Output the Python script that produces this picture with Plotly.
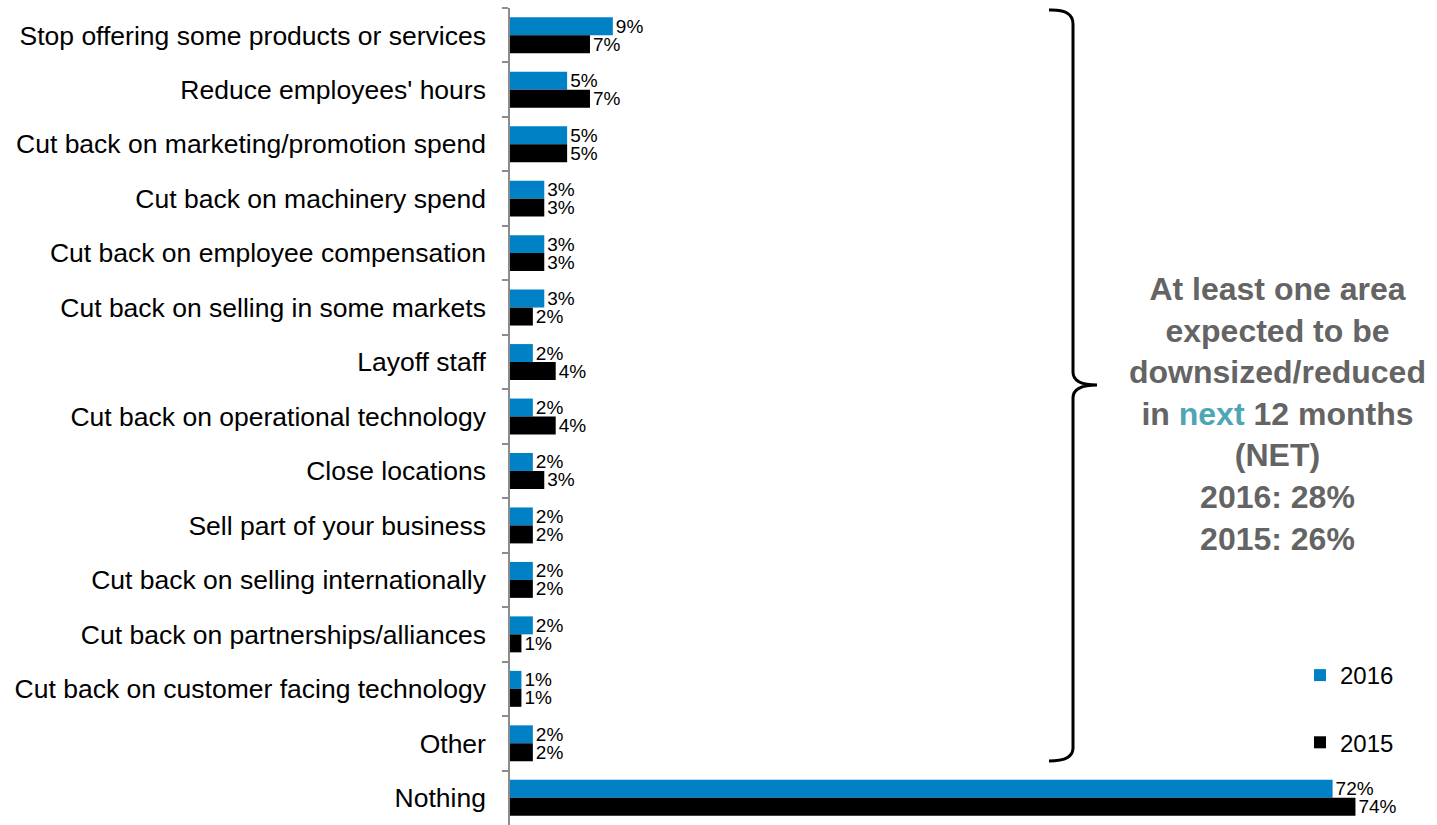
import plotly.graph_objects as go

# Survey responses: areas expected to be downsized in the next 12 months
categories = [
    "Stop offering some products or services",
    "Reduce employees' hours",
    "Cut back on marketing/promotion spend",
    "Cut back on machinery spend",
    "Cut back on employee compensation",
    "Cut back on selling in some markets",
    "Layoff staff",
    "Cut back on operational technology",
    "Close locations",
    "Sell part of your business",
    "Cut back on selling internationally",
    "Cut back on partnerships/alliances",
    "Cut back on customer facing technology",
    "Other",
    "Nothing",
]
values_2016 = [9, 5, 5, 3, 3, 3, 2, 2, 2, 2, 2, 2, 1, 2, 72]
values_2015 = [7, 7, 5, 3, 3, 2, 4, 4, 3, 2, 2, 1, 1, 2, 74]

W, H = 1437, 825
ML, MR, MT, MB = 510, 13, 8, 0
PW, PH = W - ML - MR, H - MT - MB

FONT = "Liberation Sans, Arial, sans-serif"
BLUE = "#0081C6"


def px(x):
    return (x - ML) / PW


def py(y):
    return 1 - (y - MT) / PH


fig = go.Figure()
for name, vals, color, grp in [("2016", values_2016, BLUE, "a"), ("2015", values_2015, "#000000", "b")]:
    fig.add_trace(go.Bar(
        y=categories, x=vals, name=name, orientation="h",
        marker=dict(color=color, line=dict(width=0)),
        text=[f"{v}%" for v in vals], textposition="outside",
        textfont=dict(family=FONT, size=19, color="#000000"),
        constraintext="none", cliponaxis=False,
        legendgroup=grp,
    ))

# Curly brace spanning all categories except "Nothing"
brace = (
    f"M {px(1049)},{py(10)} Q {px(1073)},{py(9)} {px(1073)},{py(24)} "
    f"L {px(1073)},{py(372)} Q {px(1073)},{py(385)} {px(1097)},{py(385)} "
    f"Q {px(1073)},{py(385)} {px(1073)},{py(398)} "
    f"L {px(1073)},{py(748)} Q {px(1073)},{py(761)} {px(1049)},{py(761)}"
)
fig.add_shape(type="path", path=brace, xref="paper", yref="paper",
              line=dict(color="#000000", width=3))

net_text = (
    "<b>At least one area<br>expected to be<br>downsized/reduced<br>"
    "in <span style='color:#4DA6B3'>next</span> 12 months<br>(NET)<br>"
    "2016: 28%<br>2015: 26%</b>"
)
fig.add_annotation(text=net_text, x=px(1277), y=py(414), xref="paper", yref="paper",
                   xanchor="center", yanchor="middle", showarrow=False, align="center",
                   font=dict(family=FONT, size=32, color="#646464"))

fig.update_layout(
    width=W, height=H,
    margin=dict(l=ML, r=MR, t=MT, b=MB),
    paper_bgcolor="white", plot_bgcolor="white",
    barmode="group", bargap=0.34, bargroupgap=0,
    showlegend=True,
    legend=dict(x=px(1300), y=py(653), xanchor="left", yanchor="top",
                traceorder="grouped", tracegroupgap=33,
                font=dict(family=FONT, size=24, color="#000000"),
                bgcolor="rgba(0,0,0,0)", itemwidth=30),
    xaxis=dict(range=[0, 80], showgrid=False, zeroline=False, showticklabels=False,
               showline=False, ticks=""),
    yaxis=dict(autorange="reversed", showgrid=False, zeroline=False,
               showline=True, linecolor="#8C8C8C", linewidth=1.5,
               ticks="outside", ticklen=6, tickcolor="#8C8C8C", tickwidth=1.5,
               tickson="boundaries", ticklabelstandoff=17,
               tickfont=dict(family=FONT, size=26.5, color="#000000")),
)

fig.write_html("out.html")
